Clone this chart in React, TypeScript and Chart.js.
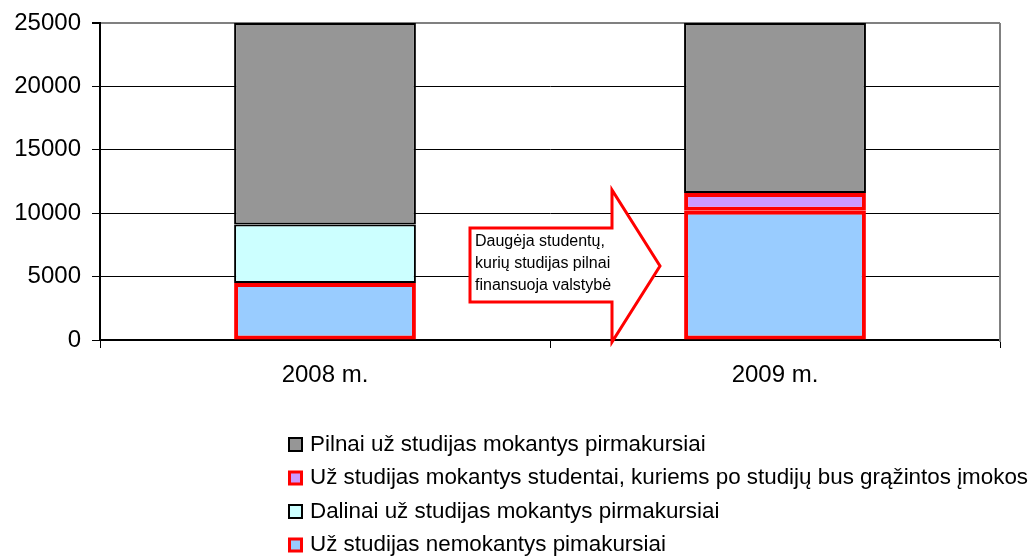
import React, { useEffect, useRef } from 'react';
import { Chart, registerables } from 'chart.js';

Chart.register(...registerables);

// ---- data ----
const categories = ['2008 m.', '2009 m.'];
const nemokantys = [4500, 10200];
const dalinai = [4600, null];
const grazintos = [null, 1400];
const pilnai = [15900, 13400];

const labelNemokantys = 'Už studijas nemokantys pimakursiai';
const labelDalinai = 'Dalinai už studijas mokantys pirmakursiai';
const labelGrazintos = 'Už studijas mokantys studentai, kuriems po studijų bus grąžintos įmokos';
const labelPilnai = 'Pilnai už studijas mokantys pirmakursiai';

const yMin = 0;
const yMax = 25000;
const yStep = 5000;

const arrowLines = ['Daugėja studentų,', 'kurių studijas pilnai', 'finansuoja valstybė'];

const FONT = '"Liberation Sans", Arial, Helvetica, sans-serif';

const frameAndAnnotationPlugin = {
  id: 'frameAndAnnotation',
  afterDatasetsDraw(chart: any) {
    const { ctx, chartArea } = chart;
    ctx.save();
    // plot area border (right, gray)
    ctx.strokeStyle = '#808080';
    ctx.lineWidth = 2;
    ctx.beginPath();
    ctx.moveTo(chartArea.right, chartArea.top);
    ctx.lineTo(chartArea.right, chartArea.bottom + 2);
    ctx.stroke();

    // block arrow annotation
    const pts = [
      [470, 228],
      [612, 228],
      [612, 190],
      [660, 266],
      [612, 342],
      [612, 302],
      [470, 302],
    ];
    ctx.beginPath();
    pts.forEach(([x, y], i) => (i === 0 ? ctx.moveTo(x, y) : ctx.lineTo(x, y)));
    ctx.closePath();
    ctx.fillStyle = '#ffffff';
    ctx.fill();
    ctx.strokeStyle = '#ff0000';
    ctx.lineWidth = 3;
    ctx.lineJoin = 'miter';
    ctx.stroke();

    ctx.fillStyle = '#000';
    ctx.font = `16px ${FONT}`;
    ctx.textBaseline = 'middle';
    ctx.textAlign = 'left';
    arrowLines.forEach((line, i) => {
      ctx.fillText(line, 475, 242 + i * 22);
    });
    ctx.restore();
  },
  afterDraw(chart: any) {
    // legend (reverse order, one item per row)
    const { ctx } = chart;
    const datasets = chart.data.datasets.slice().reverse();
    ctx.save();
    ctx.font = `22.4px ${FONT}`;
    ctx.textBaseline = 'middle';
    ctx.textAlign = 'left';
    datasets.forEach((ds: any, i: number) => {
      const cy = 444.5 + i * 33.5;
      const bw = Math.min(ds.borderWidth, 3);
      const x = 288;
      const size = 15;
      ctx.fillStyle = ds.borderColor;
      ctx.fillRect(x, cy - size / 2, size, size);
      ctx.fillStyle = ds.backgroundColor;
      ctx.fillRect(x + bw, cy - size / 2 + bw, size - 2 * bw, size - 2 * bw);
      ctx.fillStyle = '#000';
      ctx.fillText(ds.label, 310, cy);
    });
    ctx.restore();
  },
};

export default function App() {
  const canvasRef = useRef<HTMLCanvasElement | null>(null);

  useEffect(() => {
    if (!canvasRef.current) return;
    const chart = new Chart(canvasRef.current, {
      type: 'bar',
      data: {
        labels: categories,
        datasets: [
          {
            label: labelNemokantys,
            data: nemokantys,
            backgroundColor: '#99CCFF',
            borderColor: '#FF0000',
            borderWidth: 4,
            borderSkipped: false,
          },
          {
            label: labelDalinai,
            data: dalinai,
            backgroundColor: '#CCFFFF',
            borderColor: '#000000',
            borderWidth: 2,
            borderSkipped: false,
          },
          {
            label: labelGrazintos,
            data: grazintos,
            backgroundColor: '#CC99FF',
            borderColor: '#FF0000',
            borderWidth: 4,
            borderSkipped: false,
          },
          {
            label: labelPilnai,
            data: pilnai,
            backgroundColor: '#969696',
            borderColor: '#000000',
            borderWidth: 2,
            borderSkipped: false,
          },
        ],
      } as any,
      options: {
        animation: false,
        responsive: false,
        events: [],
        layout: { padding: { top: 23, right: 31, bottom: 150, left: 0 } },
        datasets: {
          bar: { categoryPercentage: 1, barPercentage: 0.404 },
        } as any,
        plugins: {
          legend: { display: false },
          tooltip: { enabled: false },
        },
        scales: {
          x: {
            stacked: true,
            grid: {
              offset: true,
              drawOnChartArea: false,
              drawTicks: true,
              tickLength: 8,
              color: '#000',
              lineWidth: 1,
            },
            border: { display: true, color: '#000', width: 1.5 },
            ticks: { color: '#000', font: { family: FONT, size: 24 }, padding: 13 },
            afterFit: (s: any) => {
              s.height = 68;
            },
          },
          y: {
            stacked: true,
            min: yMin,
            max: yMax,
            ticks: {
              stepSize: yStep,
              color: '#000',
              font: { family: FONT, size: 24, lineHeight: 1 },
              padding: 11,
              callback: (v: any) => String(v),
            },
            grid: {
              color: (c: any) => (c.tick && c.tick.value === yMax ? '#808080' : '#000'),
              lineWidth: (c: any) => (c.tick && c.tick.value === yMax ? 2 : 1),
              tickColor: '#000',
              tickLength: 8,
              drawTicks: true,
            },
            border: { display: true, color: '#000', width: 2 },
            afterFit: (s: any) => {
              s.width = 100;
            },
          },
        },
      } as any,
      plugins: [frameAndAnnotationPlugin],
    });
    return () => chart.destroy();
  }, []);

  return (
    <div style={{ position: 'absolute', left: 0, top: 0, width: 1031, height: 558, background: '#fff' }}>
      <canvas ref={canvasRef} width={1031} height={558} style={{ display: 'block' }} />
    </div>
  );
}
